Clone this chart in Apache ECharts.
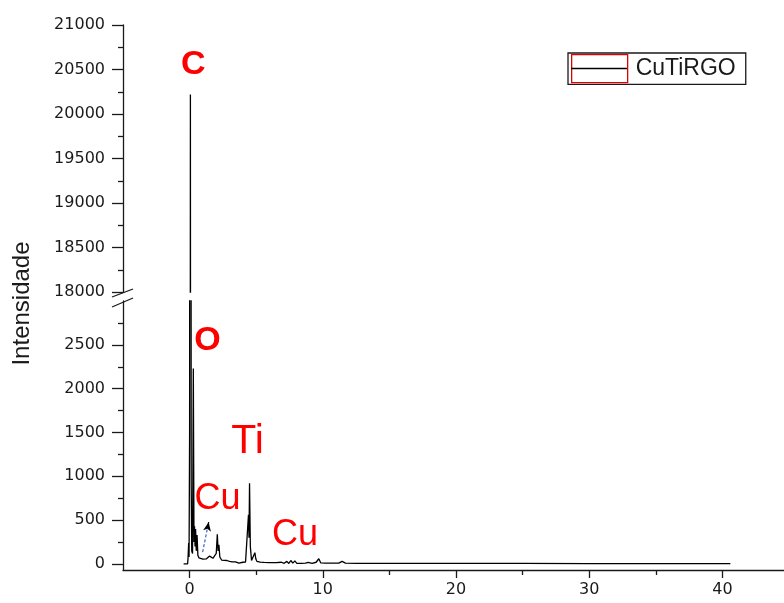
<!DOCTYPE html>
<html><head><meta charset="utf-8">
<script src="https://cdn.jsdelivr.net/npm/echarts@6/dist/echarts.min.js"></script>
<style>html,body{margin:0;padding:0;background:#fff}#c{width:784px;height:603px}</style>
</head><body><div id="c"></div>
<script>
// ---- data ----
const seriesName = 'CuTiRGO';
const energy = [-0.45,-0.15,-0.12,-0.07,-0.04,0.0,0.06,0.12,0.16,0.22,0.28,0.33,0.37,0.41,0.45,0.5,0.56,0.62,0.7,0.85,1.0,1.1,1.25,1.4,1.5,1.6,1.75,1.9,2.0,2.08,2.14,2.2,2.27,2.4,2.6,2.8,3.0,3.2,3.35,3.45,3.55,3.7,3.85,4.0,4.2,4.35,4.42,4.46,4.5,4.56,4.65,4.8,4.9,4.97,5.05,5.3,5.6,6.0,6.5,6.9,7.0,7.1,7.3,7.45,7.6,7.75,7.9,8.05,8.2,8.35,8.5,8.7,8.9,9.2,9.5,9.7,9.85,10.2,10.8,11.2,11.45,11.7,12.5,15,20,25,30,35,40.6];
const counts = [2,2,60,240,80,1500,20220,900,150,120,2230,250,430,200,400,150,330,100,70,60,55,62,58,75,90,70,65,60,120,340,150,220,80,45,42,40,30,25,12,25,10,10,20,20,22,40,560,300,920,200,40,35,129,60,30,22,18,16,15,20,35,8,30,6,40,10,35,8,30,6,25,10,18,8,20,60,12,10,9,10,30,10,8,7,6,6,5,5,4];
const xTickLabels = [0,10,20,30,40];
const xMinorTicks = [5,15,25,35];
const upperRange = [18000,21000];
const lowerTickLabels = [0,500,1000,1500,2000,2500];
const lowerMinorTicks = [250,750,1250,1750,2250,2750];
// element annotations
const peakNames = ['C','O','Ti','Cu','Cu'];
const peakAt = [[0.28,20560,'upper'],[1.34,2549,'lower'],[4.35,1395,'lower'],[2.09,741,'lower'],[7.91,325,'lower']];
const arrowFrom = [0.98,136], arrowTo = [1.43,477];

// ---- layout ----
const AX = 123;
const UP_TOP = 25, UP_BOT = 292;
const LO_TOP = 301, LO_ZERO = 564, LO_BOT = 570;
const lowerMax = 3000;
const lowerMin = -(LO_BOT - LO_ZERO) * lowerMax / (LO_ZERO - LO_TOP);

const data = energy.map((e,i)=>[e, counts[i]]);
const AXC = '#1a1a1a';
const numFont = {fontFamily:'DejaVu Sans', fontSize:16, color:AXC, formatter:(v)=>String(Math.round(v))};

function peakPoints(part){
  const out=[];
  peakNames.forEach((n,i)=>{
    if(peakAt[i][2]!==part) return;
    const bold = (n==='C'||n==='O');
    out.push({name:n, coord:[peakAt[i][0],peakAt[i][1]],
      label:{show:true, formatter:n, position:'inside', color:'#ff0000',
        fontFamily:'Liberation Sans', fontWeight: bold?'bold':'normal',
        fontSize: bold?34:(n==='Ti'?41:36)}});
  });
  return out;
}

const chart = echarts.init(document.getElementById('c'), null, {renderer:'canvas'});
chart.setOption({
  animation:false,
  backgroundColor:'#fff',
  grid:[
    {left:AX, right:-5, top:UP_TOP, height:UP_BOT-UP_TOP, containLabel:false, outerBoundsMode:'none'},
    {left:AX, right:-5, top:LO_TOP, height:LO_BOT-LO_TOP, containLabel:false, outerBoundsMode:'none'}
  ],
  legend:{data:[seriesName], left:568, top:53, orient:'horizontal', padding:[1,10,1,3],
    itemWidth:56, itemHeight:28, icon:'rect', selectedMode:false,
    itemStyle:{color:'rgba(0,0,0,0)', borderColor:'#e00000', borderWidth:1.3},
    borderColor:AXC, borderWidth:1.3,
    textStyle:{fontFamily:'Liberation Sans', fontSize:23, color:AXC, padding:[0,0,0,3]}},
  xAxis:[
    {gridIndex:0, type:'value', min:-5, max:45, show:false},
    {gridIndex:1, type:'value', min:-5, max:45, position:'bottom',
      axisLine:{show:true, onZero:false, lineStyle:{color:AXC, width:1.3}},
      axisTick:{show:true, customValues:xTickLabels, length:8, lineStyle:{color:AXC, width:1.3}},
      axisLabel:{show:true, customValues:xTickLabels, margin:12, ...numFont},
      splitLine:{show:false}},
    {gridIndex:1, type:'value', min:-5, max:45, position:'bottom',
      axisLine:{show:false, onZero:false},
      axisTick:{show:true, customValues:xMinorTicks, length:5, lineStyle:{color:AXC, width:1.3}},
      axisLabel:{show:false}, splitLine:{show:false}}
  ],
  yAxis:[
    {gridIndex:0, type:'value', min:upperRange[0], max:upperRange[1], interval:500, position:'left',
      axisLine:{show:true, onZero:false, lineStyle:{color:AXC, width:1.3}},
      axisTick:{show:true, length:11, lineStyle:{color:AXC, width:1.3}},
      minorTick:{show:true, splitNumber:2, length:5, lineStyle:{color:AXC, width:1.3}},
      axisLabel:{margin:18, ...numFont}, splitLine:{show:false}},
    {gridIndex:1, type:'value', min:lowerMin, max:lowerMax, position:'left',
      axisLine:{show:true, onZero:false, lineStyle:{color:AXC, width:1.3}},
      axisTick:{show:true, customValues:lowerTickLabels, length:11, lineStyle:{color:AXC, width:1.3}},
      axisLabel:{customValues:lowerTickLabels, margin:18, ...numFont}, splitLine:{show:false}},
    {gridIndex:1, type:'value', min:lowerMin, max:lowerMax, position:'left',
      axisLine:{show:false, onZero:false},
      axisTick:{show:true, customValues:lowerMinorTicks, length:5, lineStyle:{color:AXC, width:1.3}},
      axisLabel:{show:false}, splitLine:{show:false}}
  ],
  series:[
    {name:seriesName, type:'line', xAxisIndex:0, yAxisIndex:0, data:data, symbol:'none', showSymbol:false,
      clip:true, lineStyle:{color:'#000', width:1.3}, itemStyle:{color:'#000'},
      markPoint:{symbol:'circle', symbolSize:0, data:peakPoints('upper')}},
    {name:seriesName, type:'line', xAxisIndex:1, yAxisIndex:1, data:data, symbol:'none', showSymbol:false,
      clip:true, lineStyle:{color:'#000', width:1.3}, itemStyle:{color:'#000'},
      markPoint:{symbol:'circle', symbolSize:0, data:peakPoints('lower')},
      markLine:{silent:true, label:{show:false}, animation:false,
        data:[
          [{coord:arrowFrom, symbol:'none', lineStyle:{color:'#3a66c8', type:[3,2], width:1.2}}, {coord:arrowTo, symbol:'none'}],
          [{coord:[arrowTo[0]-0.06, arrowTo[1]-50], symbol:'none', lineStyle:{color:'#000', type:'solid', width:1.2}}, {coord:arrowTo, symbol:'arrow', symbolSize:[6,9]}]
        ]}}
  ],
  graphic:[
    {type:'line', shape:{x1:571, y1:68.5, x2:627, y2:68.5}, style:{stroke:'#000', lineWidth:1.3}, z:100},
    {type:'line', shape:{x1:AX-11, y1:UP_BOT+5, x2:AX+10, y2:UP_BOT-3}, style:{stroke:AXC, lineWidth:1.3}},
    {type:'line', shape:{x1:AX-11, y1:LO_TOP+6, x2:AX+10, y2:LO_TOP-3}, style:{stroke:AXC, lineWidth:1.3}},
    {type:'text', x:22, y:303.5, rotation:Math.PI/2,
      style:{text:'Intensidade', fill:AXC, font:'24px "Liberation Sans"', textAlign:'center', textVerticalAlign:'middle'}}
  ]
});
</script></body></html>
